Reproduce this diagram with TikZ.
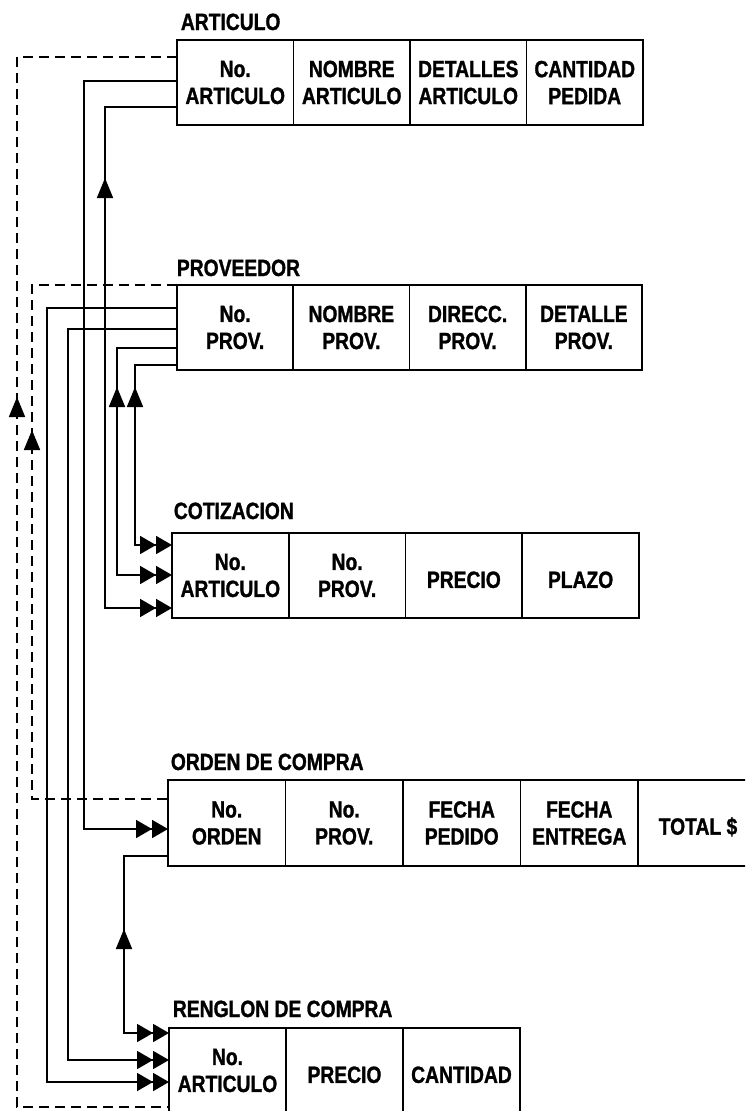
\documentclass[tikz,border=0pt]{standalone}
\usepackage{fontspec}
\setmainfont{Liberation Sans}[FakeStretch=0.82,BoldFeatures={FakeBold=1.2}]
\usetikzlibrary{arrows.meta,decorations.markings}

\begin{document}
\begin{tikzpicture}[x=1pt,y=-1pt,line width=1.8pt,
    every node/.style={font=\fontsize{23.5}{27}\selectfont\bfseries},
    cell/.style={draw,anchor=north west,outer sep=0pt,minimum height=85pt,inner sep=0pt,align=center,
      execute at begin node={\rule{0pt}{25pt}}},
    tit/.style={anchor=base west,inner sep=0pt},
    fk/.style={-{Triangle[length=16pt,width=18pt,sep=0pt]Triangle[length=16pt,width=18pt]}},
    keyline/.style={dash pattern=on 10pt off 6pt},
    upat/.style={postaction={decorate,solid},decoration={markings,
      mark=at position #1 with {\arrowreversed{Triangle[length=20pt,width=16pt]}}}}]
  \clip (0,0) rectangle (745,1111);
  \node[tit] (artT) at (180,30) {ARTICULO};
  \foreach \txt [count=\i] in {{No.\\ARTICULO},{NOMBRE\\ARTICULO},{DETALLES\\ARTICULO},{CANTIDAD\\PEDIDA}}
    \node[cell,minimum width=116.5pt] (art\i) at ({177+116.5*(\i-1)},40) {\txt};
  \node[tit] (provT) at (176,276) {PROVEEDOR};
  \foreach \txt [count=\i] in {{No.\\PROV.},{NOMBRE\\PROV.},{DIRECC.\\PROV.},{DETALLE\\PROV.}}
    \node[cell,minimum width=116.25pt] (prov\i) at ({177+116.25*(\i-1)},285) {\txt};
  \node[tit] (cotT) at (173,519) {COTIZACION};
  \foreach \txt [count=\i] in {{No.\\ARTICULO},{No.\\PROV.},PRECIO,PLAZO}
    \node[cell,minimum width=116.75pt] (cot\i) at ({172+116.75*(\i-1)},533) {\txt};
  \node[tit] (ordT) at (170,770) {ORDEN DE COMPRA};
  \foreach \txt [count=\i] in {{No.\\ORDEN},{No.\\PROV.},{FECHA\\PEDIDO},{FECHA\\ENTREGA}}
    \node[cell,minimum width=117.5pt,minimum height=86pt] (ord\i) at ({168+117.5*(\i-1)},780) {\txt};
  \node[cell,minimum width=120pt,minimum height=86pt] (ord5) at (638,780) {TOTAL \$};
  \node[tit] (renT) at (172,1017) {RENGLON DE COMPRA};
  \foreach \txt [count=\i] in {{No.\\ARTICULO},PRECIO,CANTIDAD}
    \node[cell,minimum width=117pt] (ren\i) at ({169+117*(\i-1)},1028) {\txt};

  \draw[keyline,upat=500pt] (art1.west |- 0,57) -| (17,1107) -- (ren1.west |- 0,1107);
  \draw[keyline,upat=290pt] (prov1.north west) -| (32,799) -- (ord1.west |- 0,799);
  \draw[fk] (art1.west |- 0,81) -| (84,829) -- (ord1.west |- 0,829);
  \draw[fk,upat=143pt] (art1.west |- 0,107) -| (105,608) -- (cot1.west |- 0,608);
  \draw[fk] (prov1.west |- 0,308) -| (47,1082) -- (ren1.west |- 0,1082);
  \draw[fk] (prov1.west |- 0,329) -| (68,1060) -- (ren1.west |- 0,1060);
  \draw[fk,upat=99pt] (prov1.west |- 0,348) -| (117,575) -- (cot1.west |- 0,575);
  \draw[fk,upat=64pt] (prov1.west |- 0,365) -| (135,545) -- (cot1.west |- 0,545);
  \draw[fk,upat=117pt] (ord1.west |- 0,856) -| (124,1033) -- (ren1.west |- 0,1033);
\end{tikzpicture}
\end{document}
